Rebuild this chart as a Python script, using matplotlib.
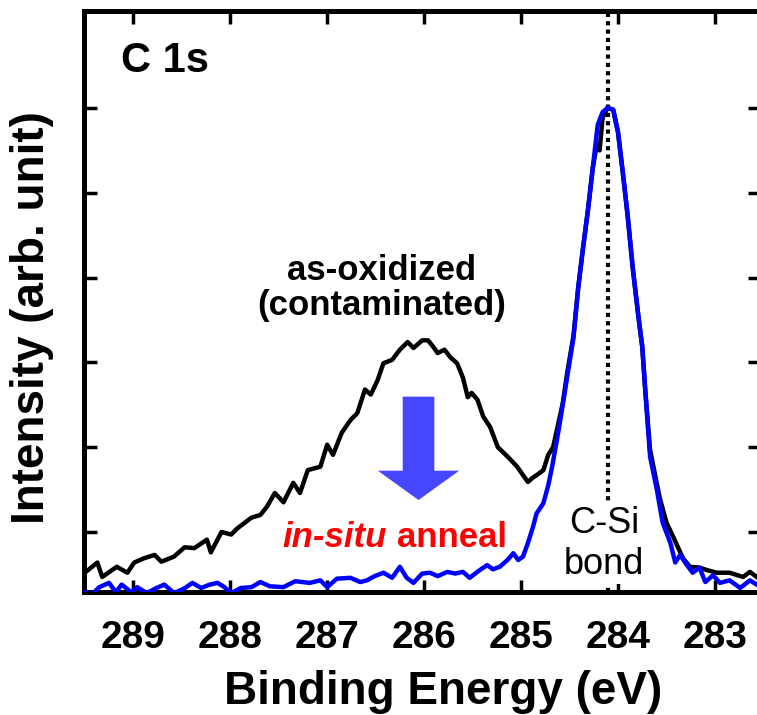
"""
C 1s XPS spectrum: as-oxidized vs. after in-situ anneal
"""
import matplotlib
matplotlib.use('Agg')
import matplotlib.pyplot as plt
from matplotlib.patches import FancyArrow

plt.rcParams['font.family'] = ['Liberation Sans', 'DejaVu Sans']
plt.rcParams['font.weight'] = 'bold'

# ---- data (binding energy eV, intensity arb.) ----
E_oxid = [289.50, 289.37, 289.32, 289.17, 289.06, 288.99, 288.89, 288.78, 288.71,
          288.58, 288.47, 288.37, 288.24, 288.20, 288.09, 287.99, 287.93, 287.78,
          287.69, 287.62, 287.54, 287.45, 287.35, 287.28, 287.20, 287.07, 287.00,
          286.94, 286.85, 286.76, 286.69, 286.61, 286.55, 286.48, 286.42, 286.33,
          286.25, 286.17, 286.11, 286.02, 285.96, 285.91, 285.86, 285.79, 285.73,
          285.66, 285.60, 285.55, 285.51, 285.45, 285.39, 285.32, 285.24, 285.14,
          285.04, 284.98, 284.93, 284.88, 284.84, 284.77, 284.72, 284.67, 284.62,
          284.57, 284.52, 284.46, 284.41, 284.36, 284.31, 284.26, 284.22, 284.19,
          284.16, 284.11, 284.05, 284.00, 283.95, 283.90, 283.85, 283.79, 283.75,
          283.72, 283.67, 283.57, 283.50, 283.43, 283.33, 283.26, 283.16, 283.08,
          282.98, 282.85, 282.71, 282.64, 282.57]
I_oxid = [0.52, 0.64, 0.47, 0.59, 0.52, 0.64, 0.69, 0.73, 0.65,
          0.71, 0.82, 0.81, 0.91, 0.76, 1.00, 0.97, 1.04, 1.17,
          1.20, 1.30, 1.46, 1.35, 1.58, 1.46, 1.73, 1.77, 2.03,
          1.91, 2.17, 2.32, 2.40, 2.68, 2.62, 2.79, 2.99, 3.03,
          3.15, 3.24, 3.17, 3.26, 3.26, 3.19, 3.11, 3.15, 3.06,
          2.99, 2.82, 2.59, 2.64, 2.56, 2.36, 2.24, 2.00, 1.89,
          1.77, 1.67, 1.59, 1.64, 1.67, 1.73, 1.91, 2.00, 2.26,
          2.52, 2.91, 3.31, 3.89, 4.36, 4.80, 5.30, 5.56, 5.50,
          5.88, 6.00, 5.98, 5.71, 5.23, 4.72, 4.13, 3.54, 3.18,
          2.68, 1.97, 1.40, 1.11, 0.94, 0.69, 0.59, 0.58, 0.55,
          0.52, 0.52, 0.47, 0.53, 0.47]

E_anneal = [289.50, 289.43, 289.35, 289.25, 289.18, 289.12, 289.02, 288.96, 288.86,
            288.76, 288.68, 288.58, 288.48, 288.39, 288.30, 288.21, 288.13, 288.06,
            287.99, 287.89, 287.78, 287.69, 287.59, 287.45, 287.33, 287.18, 287.07,
            287.00, 286.90, 286.76, 286.66, 286.59, 286.51, 286.42, 286.33, 286.25,
            286.18, 286.11, 286.02, 285.94, 285.86, 285.76, 285.68, 285.60, 285.53,
            285.44, 285.35, 285.29, 285.22, 285.14, 285.08, 285.03, 284.98, 284.93,
            284.88, 284.84, 284.77, 284.72, 284.68, 284.63, 284.60, 284.53, 284.46,
            284.41, 284.36, 284.31, 284.26, 284.21, 284.16, 284.11, 284.05, 284.00,
            283.95, 283.90, 283.85, 283.79, 283.75, 283.72, 283.67, 283.60, 283.54,
            283.46, 283.41, 283.36, 283.29, 283.23, 283.16, 283.10, 283.02, 282.95,
            282.85, 282.74, 282.64, 282.57]
I_anneal = [0.29, 0.26, 0.35, 0.40, 0.29, 0.38, 0.29, 0.35, 0.28,
            0.34, 0.38, 0.28, 0.33, 0.40, 0.34, 0.38, 0.40, 0.35,
            0.28, 0.34, 0.35, 0.41, 0.36, 0.35, 0.42, 0.40, 0.43,
            0.35, 0.45, 0.46, 0.41, 0.43, 0.48, 0.52, 0.46, 0.59,
            0.46, 0.40, 0.51, 0.52, 0.48, 0.53, 0.51, 0.53, 0.46,
            0.54, 0.61, 0.56, 0.59, 0.67, 0.75, 0.67, 0.71, 0.87,
            1.05, 1.22, 1.34, 1.55, 1.77, 2.09, 2.29, 2.79, 3.29,
            3.89, 4.36, 4.80, 5.30, 5.80, 5.95, 6.00, 5.98, 5.71,
            5.23, 4.72, 4.13, 3.54, 3.18, 2.68, 1.89, 1.50, 1.11,
            0.87, 0.64, 0.73, 0.61, 0.52, 0.58, 0.41, 0.49, 0.40,
            0.43, 0.34, 0.43, 0.38]

x_ticks = [289, 288, 287, 286, 285, 284, 283]
y_ticks = [1, 2, 3, 4, 5, 6]
E_CSi = 284.1

# ---- figure ----
fig = plt.figure(figsize=(7.57, 7.15), dpi=100)
ax = fig.add_axes([0.1116, 0.1716, 0.8930, 0.8133])

ax.axvline(E_CSi, color='black', linestyle=(0, (1, 1)), linewidth=3.0, zorder=1)
ax.plot(E_oxid, I_oxid, color='black', linewidth=3.2, zorder=2)
ax.plot(E_anneal, I_anneal, color='#0000ff', linewidth=3.2, zorder=3)

ax.set_xlim(289.503, 282.531)
ax.set_ylim(0.289, 7.146)
ax.set_xticks(x_ticks)
ax.set_yticks(y_ticks)
ax.tick_params(direction='in', length=9, width=2.5, top=True, right=True,
               labelleft=False, labelsize=28, pad=20)
for lab in ax.get_xticklabels():
    lab.set_fontweight('bold')
for sp in ax.spines.values():
    sp.set_linewidth(3.6)

ax.set_xlabel('Binding Energy (eV)', fontsize=33, fontweight='bold')
ax.set_ylabel('Intensity (arb. unit)', fontsize=33, fontweight='bold')
ax.xaxis.set_label_coords(0.53, -0.133)
ax.yaxis.set_label_coords(-0.045, 0.473)

# ---- annotations ----
ax.text(0.119, 0.9137, 'C 1s', transform=ax.transAxes, fontsize=30,
        fontweight='bold', ha='center', va='center')
ax.text(0.440, 0.523, 'as-oxidized\n(contaminated)', transform=ax.transAxes,
        fontsize=25, fontweight='bold', ha='center', va='center',
        linespacing=1.1)
ax.text(0.4475, 0.0779, 'in-situ', transform=ax.transAxes, fontsize=25,
        fontweight='bold', fontstyle='italic', color='#ff0000',
        ha='right', va='baseline')
ax.text(0.4623, 0.0779, 'anneal', transform=ax.transAxes, fontsize=25,
        fontweight='bold', color='#ff0000', ha='left', va='baseline')
ax.text(0.769, 0.083, 'C-Si\nbond', transform=ax.transAxes, fontsize=26,
        fontweight='normal', ha='center', va='center', linespacing=1.25,
        bbox=dict(facecolor='white', edgecolor='none', pad=1), zorder=4)

# big blue arrow (in-situ anneal removes contamination)
ax.add_patch(FancyArrow(286.058, 2.596, 0, -1.219, width=0.326,
                        head_width=0.839, head_length=0.346,
                        length_includes_head=True, color='#4646ff',
                        linewidth=0, zorder=2))

fig.savefig('out.png', dpi=100)
